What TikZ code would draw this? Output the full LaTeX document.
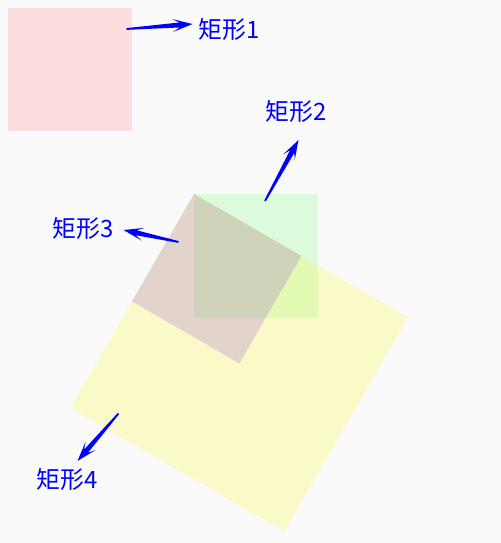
\documentclass[tikz,border=0pt]{standalone}
\usepackage{fontspec}
\newfontfamily\cjk{Noto Sans CJK SC}
\usetikzlibrary{calc}
\definecolor{bgc}{HTML}{FAFAFA}
\definecolor{pinkc}{HTML}{FCDEDE}
\definecolor{greenc}{HTML}{DCFADC}
\definecolor{yellowc}{HTML}{FAFAC8}
\definecolor{brownc}{HTML}{E2D4CC}
\definecolor{gyc}{HTML}{E3FAB4}
\definecolor{gbc}{HTML}{CFD3B9}
\tikzset{
  lbl/.style={text=blue, font=\cjk\fontsize{24}{28}\selectfont, inner sep=0pt}
}
\newcommand\taperarrow[2]{%
  \coordinate (#1-b) at ($(#2)!13bp!(#1)$);
  \coordinate (#1-c) at ($(#2)!20bp!(#1)$);
  \fill[blue] ($(#1)!0.9bp!90:(#2)$) -- ($(#1-b)!2.5bp!90:(#2)$) -- ($(#1-c)!6.5bp!90:(#2)$) -- (#2)
     -- ($(#1-c)!6.5bp!-90:(#2)$) -- ($(#1-b)!2.5bp!-90:(#2)$) -- ($(#1)!0.9bp!-90:(#2)$) -- cycle;}
\begin{document}
\begin{tikzpicture}[x=1bp,y=-1bp]
\fill[bgc] (0,0) rectangle (501,543);
\useasboundingbox (0,0) rectangle (501,543);
% rectangle 1
\fill[pinkc] (8,8) rectangle (132,131);
% rectangle 4 (yellow, rotated)
\coordinate (T) at (194,194);
\path[fill=yellowc] (T) -- (407.9,317.5) -- (284.4,531.4) -- (70.5,407.9) -- cycle;
% rectangle 3 (rotated)
\path[fill=brownc] (T) -- (301.4,256) -- (239.4,363.4) -- (132,301.4) -- cycle;
% rectangle 2 (green)
\fill[greenc] (194,194) rectangle (318,318);
\begin{scope}
\clip (T) -- (407.9,317.5) -- (284.4,531.4) -- (70.5,407.9) -- cycle;
\fill[gyc] (194,194) rectangle (318,318);
\end{scope}
\begin{scope}
\clip (T) -- (301.4,256) -- (239.4,363.4) -- (132,301.4) -- cycle;
\fill[gbc] (194,194) rectangle (318,318);
\end{scope}
% labels
\node[lbl] (l1) at (229.5,29.5) {矩形1};
\node[lbl] (l2) at (296.5,111) {矩形2};
\node[lbl] (l3) at (83.5,228) {矩形3};
\node[lbl] (l4) at (67,479.5) {矩形4};
% arrow tails and tips
\coordinate (s1) at (126.5,29);
\coordinate (t1) at (192.5,24);
\coordinate (s2) at (265,201);
\coordinate (t2) at (298.5,140);
\coordinate (s3) at (178.5,242);
\coordinate (t3) at (123.5,230);
\coordinate (s4) at (118.5,413.5);
\coordinate (t4) at (77.5,461);
\taperarrow{s1}{t1}
\taperarrow{s2}{t2}
\taperarrow{s3}{t3}
\taperarrow{s4}{t4}
\end{tikzpicture}
\end{document}
